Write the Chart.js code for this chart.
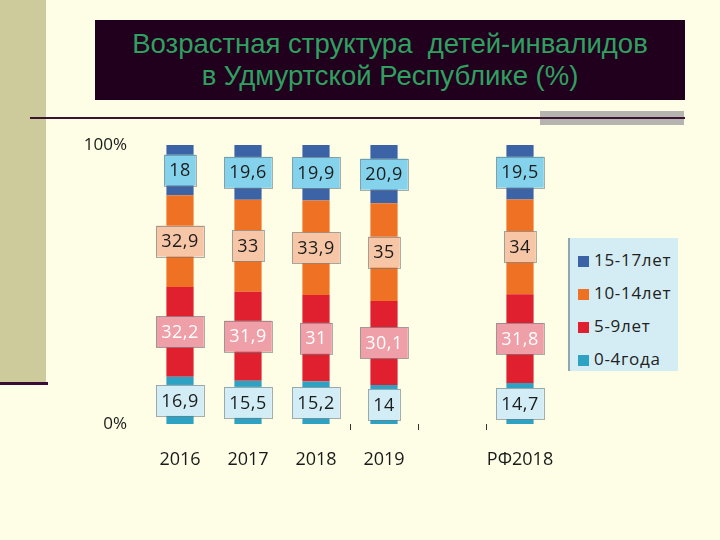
<!DOCTYPE html>
<html><head><meta charset="utf-8">
<script src="https://cdn.jsdelivr.net/npm/chart.js@4/dist/chart.umd.min.js"></script>
<style>
html,body{margin:0;padding:0;}
body{width:720px;height:540px;background:#FEFEE6;position:relative;overflow:hidden;font-family:"Liberation Sans",Arial,sans-serif;}
#strip{position:absolute;left:0;top:0;width:46px;height:382px;background:#CDCA9C;}
#stripLine{position:absolute;left:0;top:382px;width:48px;height:3px;background:#3A0C34;}
#title{position:absolute;left:95px;top:20px;width:590px;height:80px;background:#21001E;color:#2FA060;font-size:27.5px;line-height:32px;text-align:center;box-sizing:border-box;padding-top:8px;white-space:nowrap;}
#gray{position:absolute;left:540px;top:111px;width:144px;height:14px;background:#B6B4AE;}
#hline{position:absolute;left:30px;top:117px;width:655px;height:2px;background:#3A1432;}
#c{position:absolute;left:0;top:0;}
#legend{position:absolute;left:568px;top:238px;width:110px;height:133px;background:#D4EDF4;border-left:2px solid #8FA7AE;box-sizing:border-box;font-family:"Open Sans",sans-serif;font-size:17px;letter-spacing:0.7px;color:#222;padding-top:5px;}
#legend .it{height:33px;line-height:33px;padding-left:8px;white-space:nowrap;}
#legend .sw{display:inline-block;width:11px;height:11px;margin-right:5px;vertical-align:-1px;}
</style></head>
<body>
<div id="strip"></div><div id="stripLine"></div>
<div id="title">Возрастная структура&nbsp; детей-инвалидов<br>в Удмуртской Республике (%)</div>
<div id="gray"></div><div id="hline"></div>
<canvas id="c" width="720" height="540"></canvas>
<div id="legend"></div>
<script>
const categories = ['2016', '2017', '2018', '2019', '', 'РФ2018'];
const age0_4   = [16.9, 15.5, 15.2, 14,   null, 14.7];
const age5_9   = [32.2, 31.9, 31,   30.1, null, 31.8];
const age10_14 = [32.9, 33,   33.9, 35,   null, 34];
const age15_17 = [18,   19.6, 19.9, 20.9, null, 19.5];
const seriesNames = ['0-4года', '5-9лет', '10-14лет', '15-17лет'];
const yTicks = [0, 100];

const barColors = ['#2EA2C3', '#E0202E', '#EE7124', '#3D63A7'];
const boxFill = ['#D2EDF6', '#EE9FA7', '#F7C6A6', '#84D2EB'];
const boxText = ['#1c1c1c', '#ffffff', '#1c1c1c', '#1c1c1c'];
const seriesData = [age0_4, age5_9, age10_14, age15_17];

const datasets = seriesData.map((d, i) => ({
  label: seriesNames[i],
  data: d,
  backgroundColor: barColors[i],
  borderWidth: 0,
  barPercentage: 0.4,
  categoryPercentage: 1.0
}));

const labelPlugin = {
  id: 'segLabels',
  afterDatasetsDraw(chart) {
    const ctx = chart.ctx;
    ctx.save();
    ctx.font = '18px "Open Sans", sans-serif';
    ctx.textAlign = 'center';
    ctx.textBaseline = 'middle';
    if ('letterSpacing' in ctx) ctx.letterSpacing = '0.5px';
    chart.data.datasets.forEach((ds, di) => {
      const meta = chart.getDatasetMeta(di);
      meta.data.forEach((el, i) => {
        const v = ds.data[i];
        if (v === null || v === undefined) return;
        const txt = String(v).replace('.', ',');
        const cx = el.x;
        const cy = (el.y + el.base) / 2;
        const w = Math.max(ctx.measureText(txt).width + 10, 28);
        const h = 31;
        ctx.fillStyle = boxFill[di];
        ctx.fillRect(cx - w / 2, cy - h / 2, w, h);
        ctx.strokeStyle = 'rgba(110,120,125,0.6)';
        ctx.lineWidth = 1;
        ctx.strokeRect(Math.round(cx - w / 2) + 0.5, Math.round(cy - h / 2) + 0.5, Math.round(w), h);
        ctx.fillStyle = boxText[di];
        ctx.fillText(txt, cx, cy + 1);
      });
    });
    ctx.restore();
  }
};

new Chart(document.getElementById('c'), {
  type: 'bar',
  data: { labels: categories, datasets },
  options: {
    responsive: false,
    animation: false,
    layout: { padding: { top: 145, left: 0, right: 166, bottom: 0 } },
    plugins: { legend: { display: false }, tooltip: { enabled: false } },
    scales: {
      x: {
        stacked: true,
        border: { display: false },
        grid: {
          drawOnChartArea: false, drawTicks: true, tickLength: 6, offset: true,
          color: (c) => ([3, 4, 5].includes(c.index) ? '#333' : 'rgba(0,0,0,0)'),
          lineWidth: 1
        },
        ticks: { color: '#1a1a1a', font: { family: '"Open Sans", sans-serif', size: 18 }, padding: 19,
          maxRotation: 0, minRotation: 0, autoSkip: false },
        afterFit: (s) => { s.height = 116; }
      },
      y: {
        stacked: true, min: 0, max: 100,
        border: { display: false },
        grid: { display: false, drawTicks: false },
        ticks: { color: '#1a1a1a', font: { family: '"Open Sans", sans-serif', size: 17 }, padding: 19,
          callback: (v) => v + '%' },
        afterBuildTicks: (s) => { s.ticks = yTicks.map(v => ({ value: v })); },
        afterFit: (s) => { s.width = 146; }
      }
    }
  },
  plugins: [labelPlugin]
});

const lg = document.getElementById('legend');
for (let i = seriesNames.length - 1; i >= 0; i--) {
  const d = document.createElement('div');
  d.className = 'it';
  const sw = document.createElement('span');
  sw.className = 'sw';
  sw.style.background = barColors[i];
  d.appendChild(sw);
  d.appendChild(document.createTextNode(seriesNames[i]));
  lg.appendChild(d);
}
</script>
</body></html>
